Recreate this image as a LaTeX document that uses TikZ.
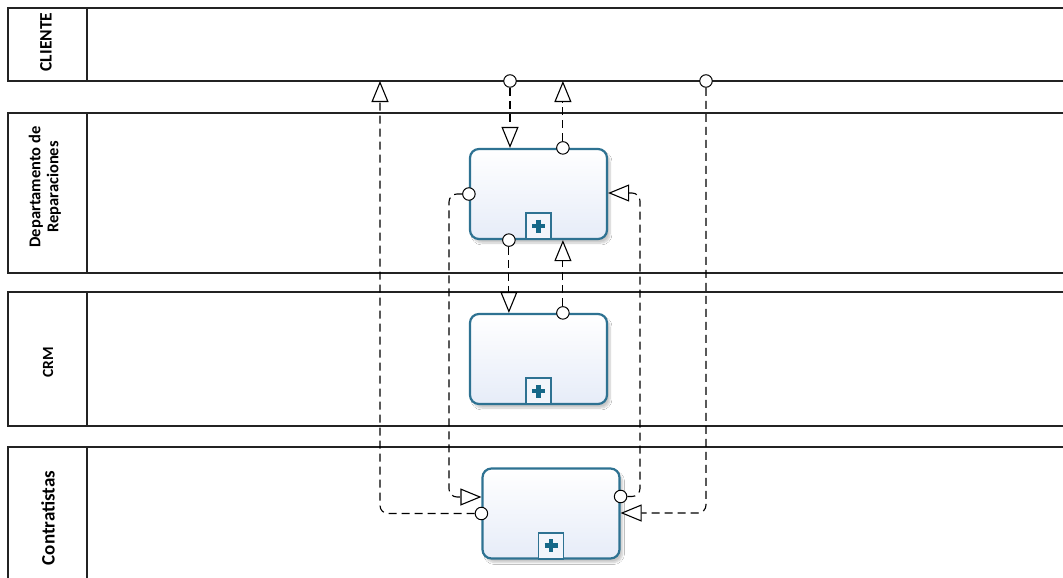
\documentclass[tikz,border=0pt]{standalone}
\usepackage{fontspec}
\setmainfont{Carlito}
\usetikzlibrary{arrows.meta,calc,shadows.blur}

\definecolor{taskline}{RGB}{46,114,146}
\definecolor{taskfill}{RGB}{230,236,248}
\definecolor{plusteal}{RGB}{22,104,136}
\definecolor{laneline}{RGB}{35,35,35}

\tikzset{
  lane/.style={draw=laneline, line width=1.3pt},
  lanelabel/.style={rotate=90, align=center, inner sep=0pt},
  task/.style={draw=taskline, line width=2.2pt, rounded corners=9pt,
    minimum width=137pt, minimum height=90pt, top color=white, bottom color=taskfill,
    blur shadow={shadow xshift=3pt, shadow yshift=-4pt, shadow opacity=22, shadow blur steps=8}},
  marker/.style={draw=taskline, line width=1.9pt, fill=white!50!taskfill,
    minimum width=25pt, minimum height=26pt, inner sep=0pt, anchor=south},
  plusbar/.style={draw=plusteal, line width=4.4pt},
  port/.style={circle, draw=black, line width=1pt, fill=white, minimum size=12.5pt, inner sep=0pt},
  msg/.style={draw=black, line width=1.1pt, dash pattern=on 8pt off 5pt, rounded corners=8pt,
    -{Triangle[fill=white, length=21pt, width=17pt, line width=1.1pt]}},
}

\begin{document}
\begin{tikzpicture}[x=1pt, y=-1pt]
  \useasboundingbox (0,0) rectangle (1063,578);
  \clip (0,0) rectangle (1063,578);
  \fill[white] (0,0) rectangle (1063,578);

  % lanes: header box on the left, open to the right
  \foreach \top/\bot in {8/81, 113/273, 292/426, 447/600} {
    \draw[lane] (8,\top) rectangle (87,\bot);
    \draw[lane] (87,\top) -- (1063,\top) (87,\bot) -- (1063,\bot);
  }
  \node[lanelabel, font=\bfseries\fontsize{17.5}{20}\selectfont] (l1) at (46,42) {CLIENTE};
  \node[lanelabel, font=\bfseries\fontsize{16.5}{18}\selectfont] (l2) at (45,187) {Departamento de\\Reparaciones};
  \node[lanelabel, font=\bfseries\fontsize{15.5}{18}\selectfont] (l3) at (48,362) {CRM};
  \node[lanelabel, font=\bfseries\fontsize{19}{22}\selectfont] (l4) at (48,518) {Contratistas};

  % collapsed sub-processes
  \node[task] (t1) at (538.5,194) {};
  \node[task] (t2) at (538.5,359) {};
  \node[task] (t3) at (551,513.5) {};
  \foreach \t in {t1,t2,t3} {
    \node[marker] (m\t) at (\t.south) {};
    \draw[plusbar] ($(m\t.center)+(-6.5,0)$) -- ($(m\t.center)+(6.5,0)$);
    \draw[plusbar] ($(m\t.center)+(0,-6.5)$) -- ($(m\t.center)+(0,6.5)$);
  }

  % message flow sources
  \node[port] (c1) at (510,81) {};
  \node[port] (c2) at ($(t1.north west)+(94,0)$) {};
  \node[port] (c3) at ($(t1.south west)+(40,0)$) {};
  \node[port] (c4) at ($(t2.north west)+(94,0)$) {};
  \node[port] (c5) at (t1.west) {};
  \node[port] (c6) at ($(t3.east)+(0,-17)$) {};
  \node[port] (c7) at (706,81) {};
  \node[port] (c8) at (t3.west) {};

  % bends and the client lane edge
  \coordinate (cb) at (0,81);
  \coordinate (j5) at (449,497);
  \coordinate (j6) at (640,193);
  \coordinate (j7) at (706,513);
  \coordinate (j8) at (380,81);

  % message flows
  \draw[msg] (c1) -- (c1 |- t1.north);
  \draw[msg] (c2) -- (c2 |- cb);
  \draw[msg] (c3) -- (c3 |- t2.north);
  \draw[msg] (c4) -- (c4 |- t1.south);
  \draw[msg] (c5) -| (j5) -- (j5 -| t3.west);
  \draw[msg] (c6) -| (j6) -- (j6 -| t1.east);
  \draw[msg] (c7) -- (j7) -- (j7 -| t3.east);
  \draw[msg] (c8) -| (j8);
\end{tikzpicture}
\end{document}
